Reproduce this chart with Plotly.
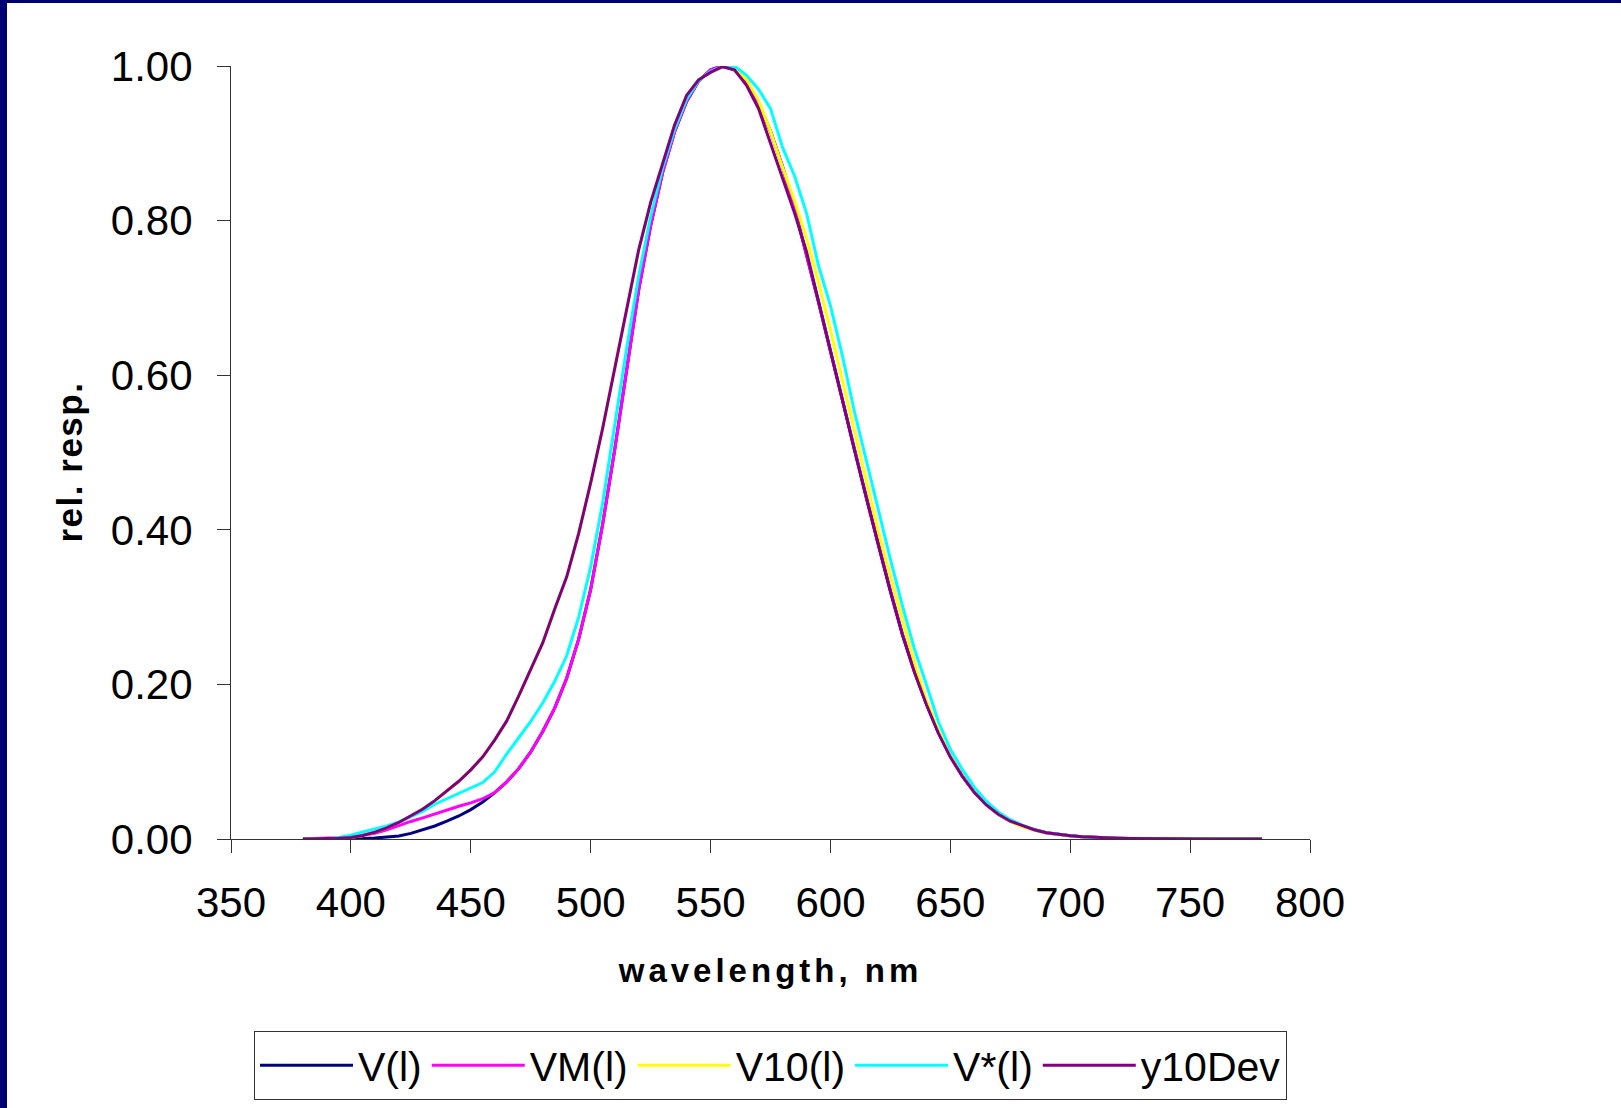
import plotly.graph_objects as go

# ---------------- data ----------------
wavelength = [380, 385, 390, 395, 400, 405, 410, 415, 420, 425, 430, 435, 440, 445, 450, 455,
              460, 465, 470, 475, 480, 485, 490, 495, 500, 505, 510, 515, 520, 525, 530, 535,
              540, 545, 550, 555, 560, 565, 570, 575, 580, 585, 590, 595, 600, 605, 610, 615,
              620, 625, 630, 635, 640, 645, 650, 655, 660, 665, 670, 675, 680, 685, 690, 695,
              700, 705, 710, 715, 720, 725, 730, 735, 740, 745, 750, 755, 760, 765, 770, 775, 780]

v_lambda = [0.000039, 0.000064, 0.00012, 0.000217, 0.000396, 0.00064, 0.00121, 0.00218, 0.004, 0.0073,
            0.0116, 0.01684, 0.023, 0.0298, 0.038, 0.048, 0.06, 0.0739, 0.09098, 0.1126,
            0.13902, 0.1693, 0.20802, 0.2586, 0.323, 0.4073, 0.503, 0.6082, 0.71, 0.7932,
            0.862, 0.91485, 0.954, 0.9803, 0.99495, 1.0, 0.995, 0.9786, 0.952, 0.9154,
            0.87, 0.8163, 0.757, 0.6949, 0.631, 0.5668, 0.503, 0.4412, 0.381, 0.321,
            0.265, 0.217, 0.175, 0.1382, 0.107, 0.0816, 0.061, 0.04458, 0.032, 0.0232,
            0.017, 0.01192, 0.00821, 0.005723, 0.004102, 0.002929, 0.002091, 0.001484, 0.001047, 0.00074,
            0.00052, 0.000361, 0.000249, 0.000172, 0.00012, 0.0000848, 0.00006, 0.0000424, 0.00003, 0.0000212,
            0.000015]

vm_lambda = [0.0002, 0.000396, 0.0008, 0.00155, 0.0028, 0.004656, 0.0074, 0.0118, 0.0175, 0.0227,
             0.0273, 0.0326, 0.0379, 0.0424, 0.0468, 0.0521, 0.06, 0.0739, 0.09098, 0.1126,
             0.13902, 0.1693, 0.20802, 0.2586, 0.323, 0.4073, 0.503, 0.6082, 0.71, 0.7932,
             0.862, 0.91485, 0.954, 0.9803, 0.99495, 1.0, 0.995, 0.9786, 0.952, 0.9154,
             0.87, 0.8163, 0.757, 0.6949, 0.631, 0.5668, 0.503, 0.4412, 0.381, 0.321,
             0.265, 0.217, 0.175, 0.1382, 0.107, 0.0816, 0.061, 0.04458, 0.032, 0.0232,
             0.017, 0.01192, 0.00821, 0.005723, 0.004102, 0.002929, 0.002091, 0.001484, 0.001047, 0.00074,
             0.00052, 0.000361, 0.000249, 0.000172, 0.00012, 0.0000848, 0.00006, 0.0000424, 0.00003, 0.0000212,
             0.000015]

v10_lambda = [0.0000134, 0.0000527, 0.000415, 0.001106, 0.002004, 0.004509, 0.008756, 0.014456, 0.021391, 0.029497,
              0.038676, 0.049602, 0.062077, 0.074704, 0.089456, 0.106256, 0.128201, 0.152761, 0.18519, 0.21994,
              0.253589, 0.297665, 0.339133, 0.395379, 0.460777, 0.53136, 0.606741, 0.68566, 0.761757, 0.82333,
              0.875211, 0.92381, 0.961988, 0.9822, 0.991761, 0.99911, 0.99734, 0.98238, 0.955552, 0.915175,
              0.868934, 0.825623, 0.777405, 0.720353, 0.658341, 0.593878, 0.527963, 0.461834, 0.398057, 0.339554,
              0.283493, 0.228254, 0.179828, 0.140211, 0.107633, 0.081187, 0.060281, 0.044096, 0.0318, 0.022602,
              0.015905, 0.01113, 0.007749, 0.005375, 0.003718, 0.002565, 0.001768, 0.001222, 0.000846, 0.000586,
              0.000407, 0.000284, 0.000199, 0.00014, 0.000098, 0.00007, 0.00005, 0.000036, 0.000025, 0.000018,
              0.000013]

vstar_lambda = [0.0, 0.0, 0.0, 0.002, 0.005, 0.009, 0.013, 0.017, 0.022, 0.029,
                0.036, 0.045, 0.052, 0.058, 0.065, 0.073, 0.087, 0.11, 0.131, 0.152,
                0.176, 0.204, 0.237, 0.287, 0.352, 0.435, 0.535, 0.635, 0.728, 0.805,
                0.868, 0.918, 0.957, 0.981, 0.993, 0.999, 1.0, 0.988, 0.97, 0.945,
                0.895, 0.858, 0.81, 0.742, 0.69, 0.625, 0.553, 0.488, 0.425, 0.362,
                0.302, 0.246, 0.2, 0.152, 0.116, 0.09, 0.067, 0.049, 0.035, 0.025,
                0.018, 0.012, 0.0085, 0.006, 0.0042, 0.003, 0.002, 0.0014, 0.001, 0.0007,
                0.0005, 0.00035, 0.00025, 0.00017, 0.00012, 0.00008, 0.00006, 0.00004, 0.00003, 0.00002,
                0.000015]

y10dev = [0.0000134, 0.0000527, 0.000415, 0.001106, 0.002004, 0.004509, 0.008756, 0.014456, 0.021391, 0.029497,
          0.038676, 0.049602, 0.062077, 0.074704, 0.089456, 0.106256, 0.128201, 0.152761, 0.18519, 0.21994,
          0.253589, 0.297665, 0.339133, 0.395379, 0.460777, 0.53136, 0.606741, 0.68566, 0.761757, 0.82333,
          0.875211, 0.92381, 0.961988, 0.9822, 0.991761, 0.99911, 0.995, 0.975, 0.945, 0.9,
          0.855, 0.81, 0.76, 0.697, 0.635, 0.568, 0.503, 0.44, 0.38, 0.32,
          0.264, 0.216, 0.174, 0.137, 0.106, 0.081, 0.06, 0.044, 0.032, 0.023,
          0.017, 0.012, 0.0082, 0.0057, 0.0041, 0.002929, 0.002091, 0.001484, 0.001047, 0.00074,
          0.00052, 0.000361, 0.000249, 0.000172, 0.00012, 0.0000848, 0.00006, 0.0000424, 0.00003, 0.0000212,
          0.000015]

series_names = ["V(l)", "VM(l)", "V10(l)", "V*(l)", "y10Dev"]
series_values = [v_lambda, vm_lambda, v10_lambda, vstar_lambda, y10dev]
series_colors = ["#000080", "#FF00FF", "#FFFF00", "#00FFFF", "#800080"]

x_ticks = [350, 400, 450, 500, 550, 600, 650, 700, 750, 800]
y_ticks = [0.0, 0.2, 0.4, 0.6, 0.8, 1.0]

x_title = "wavelength, nm"
y_title = "rel. resp."

# ---------------- layout geometry ----------------
W, H = 1621, 1108
ML, MR, MT, MB = 231, 311, 66, 269
PW = W - ML - MR
PH = H - MT - MB


def px_x(px):
    return (px - ML) / PW


def px_y(py):
    return (H - MB - py) / PH


FONT = "Liberation Sans, Arial, Helvetica, sans-serif"
AXC = "#333333"
BORDER = "#000072"

fig = go.Figure()
for name, vals, col in zip(series_names, series_values, series_colors):
    fig.add_trace(go.Scatter(
        x=wavelength, y=vals, mode="lines", name=name,
        line=dict(color=col, width=3), cliponaxis=False,
    ))

fig.update_layout(
    width=W, height=H,
    margin=dict(l=ML, r=MR, t=MT, b=MB, autoexpand=False),
    paper_bgcolor="white", plot_bgcolor="white",
    font=dict(family=FONT, color="black"),
    showlegend=True,
    legend=dict(
        orientation="h", x=0.5, xanchor="center", y=px_y(1031), yanchor="top",
        bgcolor="white", bordercolor=AXC, borderwidth=1,
        font=dict(family=FONT, size=41, color="black"),
        itemwidth=93,
        traceorder="normal",
    ),
    xaxis=dict(
        range=[350, 800], tickmode="array", tickvals=x_ticks,
        ticktext=[str(v) for v in x_ticks],
        showline=True, linecolor=AXC, linewidth=1, mirror=False,
        ticks="outside", ticklen=13, tickwidth=1, tickcolor=AXC,
        showgrid=False, zeroline=False, layer="below traces",
        tickfont=dict(family=FONT, size=42, color="black"),
        ticklabelstandoff=14,
        title=dict(text="<b>" + x_title + "</b>", font=dict(family=FONT, size=33, color="black"), standoff=33),
    ),
    yaxis=dict(
        range=[0, 1], tickmode="array", tickvals=y_ticks,
        ticktext=["%.2f" % v for v in y_ticks],
        showline=True, linecolor=AXC, linewidth=1, mirror=False,
        ticks="outside", ticklen=13, tickwidth=1, tickcolor=AXC,
        showgrid=False, zeroline=False, layer="below traces",
        tickfont=dict(family=FONT, size=42, color="black"),
        ticklabelstandoff=16,
    ),
    annotations=[
        dict(text="<b>" + y_title + "</b>", xref="paper", yref="paper",
             x=px_x(70), y=px_y(462), xanchor="center", yanchor="middle",
             textangle=-90, showarrow=False,
             font=dict(family=FONT, size=35, color="black")),
    ],
    shapes=[
        dict(type="rect", xref="paper", yref="paper",
             x0=px_x(0), x1=px_x(7), y0=px_y(H), y1=px_y(0),
             fillcolor=BORDER, line=dict(width=0), layer="above"),
        dict(type="rect", xref="paper", yref="paper",
             x0=px_x(0), x1=px_x(W), y0=px_y(3), y1=px_y(0),
             fillcolor=BORDER, line=dict(width=0), layer="above"),
    ],
)

post = ("document.body.style.margin='0';"
        "var gd=document.getElementById('{plot_id}');"
        "gd.querySelectorAll('.xtitle').forEach(function(t){t.style.letterSpacing='4px';});"
        "gd.querySelectorAll('.annotation-text').forEach(function(t){t.style.letterSpacing='1.5px';});")

fig.write_html("out.html", post_script=post, config={"displayModeBar": False})
